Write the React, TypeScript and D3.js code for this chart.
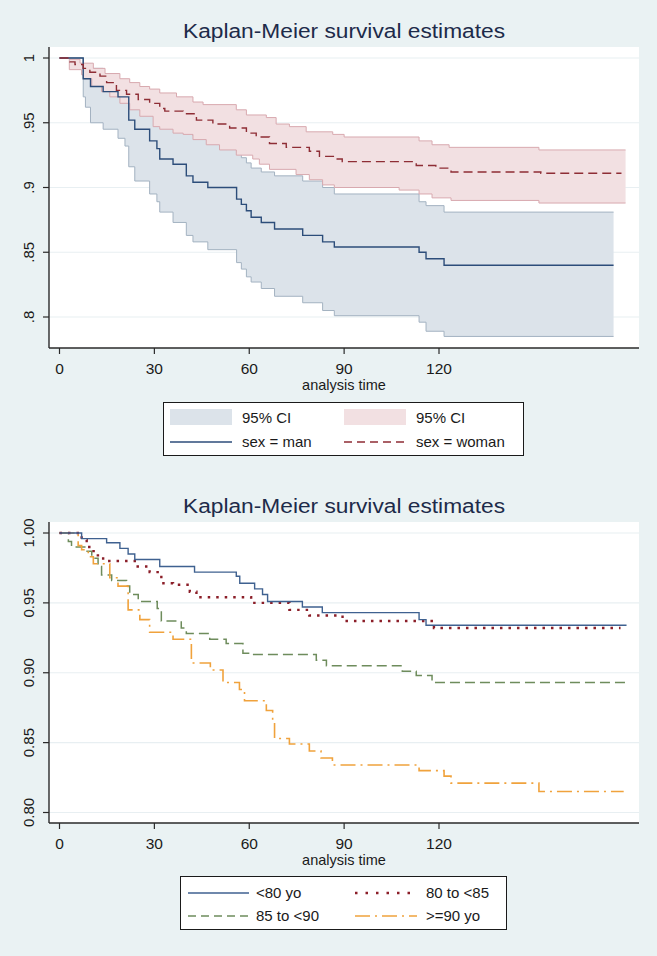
import React from 'react';
import * as d3 from 'd3';

// ---------- data ----------
const xTicks = [0, 30, 60, 90, 120];
const yTicks = [0.8, 0.85, 0.9, 0.95, 1];
const yTickLabelsTop = ['.8', '.85', '.9', '.95', '1'];
const yTickLabelsBottom = ['0.80', '0.85', '0.90', '0.95', '1.00'];

const chartTitle = 'Kaplan-Meier survival estimates';
const xAxisTitle = 'analysis time';

// Top chart: sex = man
const manTimes = [0, 7.5, 9.8, 13.8, 18.5, 21.9, 23.8, 28.5, 30.8, 31.7, 35.9, 40.1, 42.2, 46.9, 56.0, 57.5, 59.1, 60.6, 63.8, 68.0, 76.9, 83.2, 86.9, 113.7, 115.9, 121.6];
const manSurv = [1, 0.984, 0.978, 0.974, 0.970, 0.952, 0.945, 0.936, 0.930, 0.922, 0.918, 0.909, 0.904, 0.900, 0.891, 0.887, 0.882, 0.877, 0.873, 0.868, 0.863, 0.858, 0.854, 0.850, 0.845, 0.840];
const manEnd = 175.2;
const manUpperTimes = [0, 7.5, 9.8, 13.8, 18.5, 21.9, 23.8, 28.5, 30.8, 31.7, 35.9, 40.1, 42.2, 46.9, 56.0, 57.5, 59.1, 60.6, 63.8, 68.0, 76.9, 83.2, 86.9, 113.7, 115.9, 121.6];
const manUpperVals = [1, 0.995, 0.992, 0.988, 0.982, 0.972, 0.967, 0.962, 0.958, 0.953, 0.950, 0.944, 0.940, 0.936, 0.927, 0.923, 0.919, 0.915, 0.912, 0.909, 0.905, 0.900, 0.895, 0.889, 0.886, 0.881];
const manLowerTimes = [0, 7.5, 8.2, 9.8, 13.8, 18.5, 20.7, 21.9, 23.8, 28.5, 30.8, 31.7, 35.9, 40.1, 42.2, 46.9, 56.0, 57.5, 59.1, 60.6, 63.8, 68.0, 76.9, 83.2, 86.9, 113.7, 115.9, 121.6];
const manLowerVals = [1, 0.970, 0.962, 0.950, 0.945, 0.938, 0.932, 0.916, 0.905, 0.895, 0.889, 0.881, 0.873, 0.863, 0.858, 0.852, 0.842, 0.837, 0.831, 0.827, 0.822, 0.816, 0.811, 0.805, 0.801, 0.796, 0.789, 0.785];

// Top chart: sex = woman
const womanTimes = [0, 3.3, 4.9, 7.5, 9.6, 12.8, 14.9, 18.0, 21.2, 24.9, 28.5, 31.7, 33.3, 39.1, 43.3, 48.5, 53.8, 59.1, 62.2, 66.4, 71.7, 79.0, 82.2, 87.4, 89.4, 112.8, 119.0, 123.8, 152.2];
const womanSurv = [1, 0.997, 0.995, 0.992, 0.989, 0.986, 0.981, 0.975, 0.972, 0.968, 0.965, 0.961, 0.959, 0.957, 0.952, 0.949, 0.946, 0.942, 0.939, 0.934, 0.931, 0.928, 0.924, 0.922, 0.920, 0.917, 0.915, 0.912, 0.911];
const womanEnd = 177.7;
const womanCIEnd = 179;
const womanUpperTimes = [0, 3.3, 6.5, 10.7, 14.4, 19.1, 22.2, 25.4, 28.5, 31.7, 37.0, 42.2, 45.4, 55.9, 59.1, 65.4, 68.5, 72.7, 78.0, 86.4, 90.0, 113.7, 117.8, 123.2, 151.6];
const womanUpperVals = [1, 0.999, 0.996, 0.992, 0.988, 0.984, 0.981, 0.978, 0.976, 0.973, 0.970, 0.966, 0.964, 0.960, 0.956, 0.954, 0.949, 0.947, 0.943, 0.941, 0.939, 0.936, 0.933, 0.931, 0.929];
const womanLowerTimes = [0, 3.1, 7.0, 7.5, 10.2, 13.3, 15.9, 19.1, 22.2, 25.4, 29.6, 31.7, 35.9, 39.1, 42.2, 46.4, 50.6, 55.9, 61.1, 63.2, 66.4, 74.8, 79.0, 83.2, 86.9, 107.4, 113.7, 117.8, 123.8, 151.6];
const womanLowerVals = [1, 0.991, 0.987, 0.984, 0.978, 0.974, 0.970, 0.965, 0.960, 0.955, 0.947, 0.945, 0.942, 0.941, 0.937, 0.933, 0.929, 0.925, 0.922, 0.918, 0.914, 0.910, 0.906, 0.902, 0.900, 0.898, 0.895, 0.892, 0.890, 0.888];

// Bottom chart: age groups
const under80Times = [0, 7.0, 14.9, 19.1, 21.7, 23.8, 31.7, 42.7, 55.9, 57.0, 61.7, 64.2, 65.8, 76.8, 83.1, 113.7, 115.9];
const under80Surv = [1, 0.996, 0.993, 0.989, 0.985, 0.981, 0.976, 0.972, 0.969, 0.964, 0.960, 0.956, 0.951, 0.947, 0.943, 0.938, 0.934];
const under80End = 179.3;

const a80Times = [0, 7.0, 8.6, 10.2, 11.2, 13.8, 23.8, 28.5, 32.2, 35.9, 41.2, 43.3, 60.6, 72.7, 79.0, 89.5, 118.4];
const a80Surv = [1, 0.995, 0.990, 0.987, 0.984, 0.980, 0.976, 0.972, 0.964, 0.963, 0.958, 0.954, 0.950, 0.945, 0.941, 0.937, 0.932];
const a80End = 177.4;

const a85Times = [0, 2.8, 3.8, 8.0, 10.2, 12.2, 13.3, 16.5, 21.2, 22.2, 24.9, 30.9, 32.2, 38.5, 40.1, 47.5, 52.7, 58.0, 60.1, 81.2, 84.4, 108.4, 112.8, 117.8];
const a85Surv = [1, 0.994, 0.990, 0.987, 0.982, 0.976, 0.970, 0.966, 0.962, 0.956, 0.951, 0.946, 0.937, 0.932, 0.928, 0.924, 0.921, 0.914, 0.913, 0.909, 0.905, 0.901, 0.898, 0.893];
const a85End = 179.3;

const a90Times = [0, 5.9, 7.0, 9.1, 10.7, 15.9, 18.5, 21.7, 25.4, 28.5, 35.9, 41.7, 47.7, 51.7, 56.9, 58.5, 65.4, 67.4, 68.0, 72.7, 79.0, 82.7, 86.3, 113.7, 121.6, 123.8, 151.6];
const a90Surv = [1, 0.991, 0.988, 0.983, 0.978, 0.968, 0.962, 0.945, 0.938, 0.929, 0.924, 0.907, 0.902, 0.893, 0.888, 0.880, 0.873, 0.866, 0.853, 0.849, 0.844, 0.839, 0.834, 0.830, 0.826, 0.821, 0.815];
const a90End = 178.4;

const legendTopLabels = ['95% CI', '95% CI', 'sex = man', 'sex = woman'];
const legendBottomLabels = ['<80 yo', '80 to <85', '85 to <90', '>=90 yo'];

// ---------- styling ----------
const FONT = '"Liberation Sans", Arial, Helvetica, sans-serif';
const BG = '#eaf2f3';
const GRID = '#e8eff2';
const AXIS = '#2a2a2a';
const TITLE_C = '#1d2b4a';
const TEXT_C = '#1a1a1a';

const MAN_C = '#2c4d7a';
const WOMAN_C = '#8e2d35';
const MAN_CI_FILL = '#dce3ea';
const MAN_CI_LINE = '#a3b2c1';
const WOMAN_CI_FILL = '#f2e0e2';
const WOMAN_CI_LINE = '#d8a9af';

const C_U80 = '#3f6190';
const C_80 = '#8b1e28';
const C_85 = '#6e8c5c';
const C_90 = '#f0a23c';

type Pt = [number, number];

function stepPoints(times: number[], vals: number[], end: number): Pt[] {
  const pts: Pt[] = [];
  for (let i = 0; i < times.length; i++) {
    const next = i < times.length - 1 ? times[i + 1] : end;
    pts.push([times[i], vals[i]]);
    pts.push([next, vals[i]]);
  }
  return pts;
}

const PLOT_L = 49;
const PLOT_R = 639;

function Axes({ top, bottom, y, labels }: { top: number; bottom: number; y: d3.ScaleLinear<number, number>; labels: string[] }) {
  const x = d3.scaleLinear().domain([0, 120]).range([59.5, 439]);
  return (
    <g>
      <rect x={PLOT_L} y={top} width={PLOT_R - PLOT_L} height={bottom - top} fill="#ffffff" />
      {yTicks.map((t) => (
        <line key={'g' + t} x1={PLOT_L} x2={PLOT_R} y1={y(t)} y2={y(t)} stroke={GRID} strokeWidth={1.2} />
      ))}
    </g>
  );
}

function AxisLines({ top, bottom, y, labels }: { top: number; bottom: number; y: d3.ScaleLinear<number, number>; labels: string[] }) {
  const x = d3.scaleLinear().domain([0, 120]).range([59.5, 439]);
  return (
    <g fontFamily={FONT} fill={TEXT_C}>
      <line x1={PLOT_L} x2={PLOT_L} y1={top} y2={bottom} stroke={AXIS} strokeWidth={1.4} />
      <line x1={PLOT_L} x2={PLOT_R} y1={bottom} y2={bottom} stroke={AXIS} strokeWidth={1.4} />
      {yTicks.map((t, i) => (
        <g key={'y' + t}>
          <line x1={PLOT_L - 6} x2={PLOT_L} y1={y(t)} y2={y(t)} stroke={AXIS} strokeWidth={1.2} />
          <text transform={`translate(34,${y(t)}) rotate(-90)`} textAnchor="middle" fontSize={15}>{labels[i]}</text>
        </g>
      ))}
      {xTicks.map((t) => (
        <g key={'x' + t}>
          <line x1={x(t)} x2={x(t)} y1={bottom} y2={bottom + 6} stroke={AXIS} strokeWidth={1.2} />
          <text x={x(t)} y={bottom + 25.5} textAnchor="middle" fontSize={15.5}>{t}</text>
        </g>
      ))}
      <text x={(PLOT_L + PLOT_R) / 2} y={bottom + 41.5} textAnchor="middle" fontSize={14.5}>{xAxisTitle}</text>
    </g>
  );
}

export default function App() {
  const x = d3.scaleLinear().domain([0, 120]).range([59.5, 439]);
  const yTop = d3.scaleLinear().domain([0.8, 1]).range([317, 58]);
  const yBot = d3.scaleLinear().domain([0.8, 1]).range([812.5, 533]);

  const lineTop = d3.line<Pt>().x((d) => x(d[0])).y((d) => yTop(d[1]));
  const lineBot = d3.line<Pt>().x((d) => x(d[0])).y((d) => yBot(d[1]));

  const manU = stepPoints(manUpperTimes, manUpperVals, manEnd);
  const manL = stepPoints(manLowerTimes, manLowerVals, manEnd);
  const womU = stepPoints(womanUpperTimes, womanUpperVals, womanCIEnd);
  const womL = stepPoints(womanLowerTimes, womanLowerVals, womanCIEnd);
  const manPoly = lineTop([...manU, ...manL.slice().reverse()]) + 'Z';
  const womPoly = lineTop([...womU, ...womL.slice().reverse()]) + 'Z';

  const manLine = lineTop(stepPoints(manTimes, manSurv, manEnd));
  const womLine = lineTop(stepPoints(womanTimes, womanSurv, womanEnd));

  const u80 = lineBot(stepPoints(under80Times, under80Surv, under80End));
  const l80 = lineBot(stepPoints(a80Times, a80Surv, a80End));
  const l85 = lineBot(stepPoints(a85Times, a85Surv, a85End));
  const l90 = lineBot(stepPoints(a90Times, a90Surv, a90End));

  const topTop = 47, topBottom = 348;
  const botTop = 522, botBottom = 823;
  const cx = (PLOT_L + PLOT_R) / 2;

  return (
    <svg width={657} height={956} style={{ position: 'absolute', left: 0, top: 0 }}>
      <rect x={0} y={0} width={657} height={956} fill={BG} />

      {/* ---------- TOP CHART ---------- */}
      <text x={cx} y={37.5} textAnchor="middle" fontFamily={FONT} fontSize={20} fill={TITLE_C} textLength={322} lengthAdjust="spacingAndGlyphs">{chartTitle}</text>
      <Axes top={topTop} bottom={topBottom} y={yTop} labels={yTickLabelsTop} />
      <path d={manPoly} fill={MAN_CI_FILL} stroke="none" />
      <path d={lineTop(manU) || ''} fill="none" stroke={MAN_CI_LINE} strokeWidth={1} />
      <path d={lineTop(manL) || ''} fill="none" stroke={MAN_CI_LINE} strokeWidth={1} />
      <path d={womPoly} fill={WOMAN_CI_FILL} stroke="none" />
      <path d={lineTop(womU) || ''} fill="none" stroke={WOMAN_CI_LINE} strokeWidth={1} />
      <path d={lineTop(womL) || ''} fill="none" stroke={WOMAN_CI_LINE} strokeWidth={1} />
      <path d={manLine || ''} fill="none" stroke={MAN_C} strokeWidth={1.4} />
      <path d={womLine || ''} fill="none" stroke={WOMAN_C} strokeWidth={1.4} strokeDasharray="9,5" />
      <AxisLines top={topTop} bottom={topBottom} y={yTop} labels={yTickLabelsTop} />

      {/* top legend */}
      <g fontFamily={FONT} fontSize={15} fill={TEXT_C}>
        <rect x={163.5} y={402.5} width={360} height={53} fill="#ffffff" stroke="#1a1a1a" strokeWidth={1} />
        <rect x={170} y={409} width={62} height={16} fill={MAN_CI_FILL} />
        <text x={242} y={423}>{legendTopLabels[0]}</text>
        <rect x={344} y={409} width={62} height={16} fill={WOMAN_CI_FILL} />
        <text x={416} y={423}>{legendTopLabels[1]}</text>
        <line x1={170} x2={232} y1={442} y2={442} stroke={MAN_C} strokeWidth={1.4} />
        <text x={242} y={447}>{legendTopLabels[2]}</text>
        <line x1={344} x2={406} y1={442} y2={442} stroke={WOMAN_C} strokeWidth={1.4} strokeDasharray="8,5" />
        <text x={416} y={447}>{legendTopLabels[3]}</text>
      </g>

      {/* ---------- BOTTOM CHART ---------- */}
      <text x={cx} y={512.5} textAnchor="middle" fontFamily={FONT} fontSize={20} fill={TITLE_C} textLength={322} lengthAdjust="spacingAndGlyphs">{chartTitle}</text>
      <Axes top={botTop} bottom={botBottom} y={yBot} labels={yTickLabelsBottom} />
      <path d={l85 || ''} fill="none" stroke={C_85} strokeWidth={1.5} strokeDasharray="10,5" />
      <path d={l90 || ''} fill="none" stroke={C_90} strokeWidth={1.6} strokeDasharray="15,5,2,5" />
      <path d={l80 || ''} fill="none" stroke={C_80} strokeWidth={2.4} strokeDasharray="2.5,6" />
      <path d={u80 || ''} fill="none" stroke={C_U80} strokeWidth={1.4} />
      <AxisLines top={botTop} bottom={botBottom} y={yBot} labels={yTickLabelsBottom} />

      {/* bottom legend */}
      <g fontFamily={FONT} fontSize={15} fill={TEXT_C}>
        <rect x={180.5} y={876.5} width={326} height={53} fill="#ffffff" stroke="#1a1a1a" strokeWidth={1} />
        <line x1={188} x2={249} y1={893} y2={893} stroke={C_U80} strokeWidth={1.4} />
        <text x={256} y={898}>{legendBottomLabels[0]}</text>
        <line x1={355} x2={417} y1={893} y2={893} stroke={C_80} strokeWidth={2.4} strokeDasharray="2.5,8" />
        <text x={426} y={898}>{legendBottomLabels[1]}</text>
        <line x1={188} x2={249} y1={916} y2={916} stroke={C_85} strokeWidth={1.5} strokeDasharray="8,5" />
        <text x={256} y={921}>{legendBottomLabels[2]}</text>
        <line x1={355} x2={417} y1={916} y2={916} stroke={C_90} strokeWidth={1.6} strokeDasharray="15,5,2,5" />
        <text x={426} y={921}>{legendBottomLabels[3]}</text>
      </g>
    </svg>
  );
}
